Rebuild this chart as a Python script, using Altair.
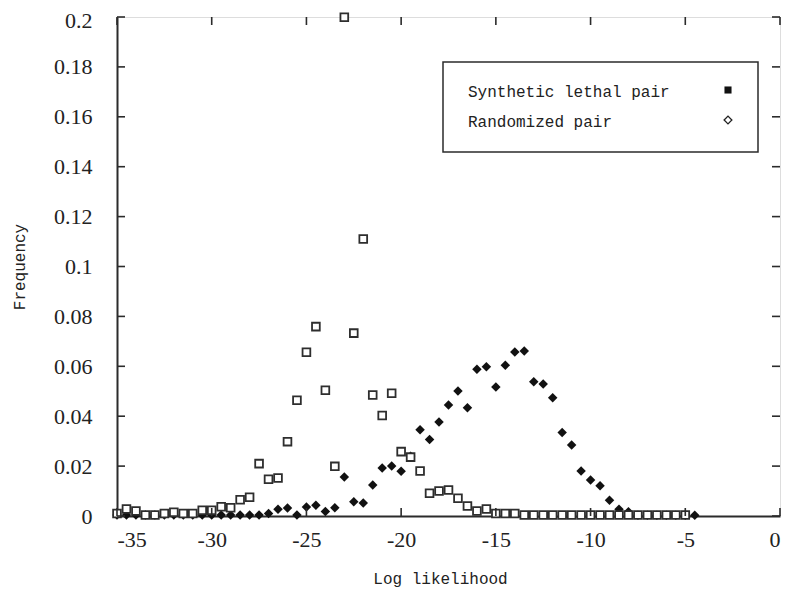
import altair as alt
import pandas as pd

# Randomized pair (open squares)
rand_x = [-35, -34.5, -34, -33.5, -33, -32.5, -32, -31.5, -31, -30.5, -30, -29.5, -29, -28.5,
          -28, -27.5, -27, -26.5, -26, -25.5, -25, -24.5, -24, -23.5, -23, -22.5, -22, -21.5,
          -21, -20.5, -20, -19.5, -19, -18.5, -18, -17.5, -17, -16.5, -16, -15.5, -15, -14.5,
          -14, -13.5, -13, -12.5, -12, -11.5, -11, -10.5, -10, -9.5, -9, -8.5, -8, -7.5, -7,
          -6.5, -6, -5.5, -5]
rand_y = [0.001, 0.0028, 0.002, 0.0004, 0.0004, 0.001, 0.0015, 0.001, 0.001, 0.0023, 0.0023,
          0.0037, 0.0033, 0.0065, 0.0075, 0.021, 0.0147, 0.0152, 0.0298, 0.0464, 0.0656, 0.0759,
          0.0504, 0.0199, 0.1999, 0.0733, 0.111, 0.0485, 0.0403, 0.0492, 0.0258, 0.0236, 0.018,
          0.0091, 0.01, 0.0104, 0.0071, 0.004, 0.002, 0.0028, 0.001, 0.001, 0.001, 0.0004,
          0.0004, 0.0004, 0.0004, 0.0004, 0.0004, 0.0004, 0.0004, 0.0004, 0.0004, 0.0004,
          0.0004, 0.0004, 0.0004, 0.0004, 0.0004, 0.0004, 0.0004]

# Synthetic lethal pair (filled diamonds)
syn_x = [-35, -34.5, -34, -33.5, -33, -32.5, -32, -31.5, -31, -30.5, -30, -29.5, -29, -28.5,
         -28, -27.5, -27, -26.5, -26, -25.5, -25, -24.5, -24, -23.5, -23, -22.5, -22, -21.5,
         -21, -20.5, -20, -19.5, -19, -18.5, -18, -17.5, -17, -16.5, -16, -15.5, -15, -14.5,
         -14, -13.5, -13, -12.5, -12, -11.5, -11, -10.5, -10, -9.5, -9, -8.5, -8, -7.5, -7,
         -6.5, -6, -5.5, -5, -4.5]
syn_y = [0.0004, 0.0004, 0.0004, 0.0004, 0.0004, 0.0004, 0.0004, 0.0004, 0.0004, 0.0004,
         0.0004, 0.0004, 0.0004, 0.0004, 0.0004, 0.0004, 0.001, 0.0027, 0.0032, 0.0004, 0.0036,
         0.0043, 0.0018, 0.0033, 0.0156, 0.0057, 0.0052, 0.0124, 0.0192, 0.02, 0.0179, 0.024,
         0.0346, 0.0307, 0.0377, 0.0445, 0.0501, 0.0434, 0.0588, 0.0598, 0.0517, 0.0604, 0.0657,
         0.0661, 0.0538, 0.0529, 0.0474, 0.0335, 0.0285, 0.018, 0.0144, 0.0121, 0.0063, 0.0027,
         0.0017, 0.0003, 0.0003, 0.0003, 0.0003, 0.0003, 0.0003, 0.0003]

x_ticks = [-35, -30, -25, -20, -15, -10, -5, 0]
y_ticks = [0, 0.02, 0.04, 0.06, 0.08, 0.1, 0.12, 0.14, 0.16, 0.18, 0.2]

legend_labels = ["Synthetic lethal pair", "Randomized pair"]

rand_df = pd.DataFrame({"x": rand_x, "y": rand_y})
syn_df = pd.DataFrame({"x": syn_x, "y": syn_y})
xt_df = pd.DataFrame({"v": x_ticks})
yt_df = pd.DataFrame({"v": y_ticks})
one = alt.Data(values=[{"a": 1}])

INK = "#2b2b2b"
SERIF = "Liberation Serif"
MONO = "Liberation Mono"

xscale = alt.Scale(domain=[-35, 0], nice=False, zero=False)
yscale = alt.Scale(domain=[0, 0.2], nice=False)

xaxis = alt.Axis(values=x_ticks, labelExpr="'' + datum.value", ticks=False, tickSize=0,
                 grid=False, labelFont=SERIF, labelFontSize=22, labelColor="#222",
                 labelPadding=13, domainColor=INK, domainWidth=2,
                 title="Log likelihood", titleFont=MONO, titleFontSize=16,
                 titleFontWeight="normal", titleColor="#222", titleX=323, titleY=67,
                 titleBaseline="alphabetic", titleAlign="center")
yaxis = alt.Axis(values=y_ticks, format=".2~f", ticks=False, tickSize=0, grid=False,
                 labelFont=SERIF, labelFontSize=22, labelColor="#222", labelPadding=25,
                 labelOffset={"condition": {"test": "datum.value > 0.19", "value": 3},
                              "value": 0},
                 domainColor=INK, domainWidth=2,
                 title="Frequency", titleFont=MONO, titleFontSize=16,
                 titleFontWeight="normal", titleColor="#222", titleX=-98, titleY=249.5,
                 titleAngle=270, titleBaseline="middle", titleAlign="center")

diamonds = alt.Chart(syn_df).mark_point(shape="diamond", filled=True, size=90,
                                        color="#111", opacity=1).encode(
    x=alt.X("x:Q", scale=xscale, axis=xaxis),
    y=alt.Y("y:Q", scale=yscale, axis=yaxis),
)
squares = alt.Chart(rand_df).mark_point(shape="square", filled=False, size=60,
                                        stroke="#2e2e2e", strokeWidth=1.8, fill="white",
                                        opacity=1, fillOpacity=1).encode(
    x="x:Q", y="y:Q",
)

tick_style = dict(color=INK, thickness=1.6, size=8, opacity=1)
bottom_ticks = alt.Chart(xt_df).mark_tick(orient="vertical", yOffset=-4, **tick_style).encode(
    x="v:Q", y=alt.datum(0))
top_ticks = alt.Chart(xt_df).mark_tick(orient="vertical", yOffset=4, **tick_style).encode(
    x="v:Q", y=alt.datum(0.2))
left_ticks = alt.Chart(yt_df).mark_tick(orient="horizontal", xOffset=4, **tick_style).encode(
    y="v:Q", x=alt.datum(-35))
right_ticks = alt.Chart(yt_df).mark_tick(orient="horizontal", xOffset=-4, **tick_style).encode(
    y="v:Q", x=alt.datum(0))

legend_box = alt.Chart(one).mark_rect(fill="white", stroke=INK, strokeWidth=1.5).encode(
    x=alt.value(326), x2=alt.value(641), y=alt.value(45), y2=alt.value(135))
legend_t1 = alt.Chart(one).mark_text(font=MONO, fontSize=16, color="#222", align="left",
                                     baseline="middle").encode(
    x=alt.value(351), y=alt.value(75), text=alt.value(legend_labels[0]))
legend_t2 = alt.Chart(one).mark_text(font=MONO, fontSize=16, color="#222", align="left",
                                     baseline="middle").encode(
    x=alt.value(351), y=alt.value(105), text=alt.value(legend_labels[1]))
legend_s1 = alt.Chart(one).mark_point(shape="square", filled=True, size=50, color="#111",
                                      opacity=1).encode(x=alt.value(611), y=alt.value(73))
legend_s2 = alt.Chart(one).mark_point(shape="diamond", filled=False, size=60, stroke="#222",
                                      strokeWidth=1.3, opacity=1).encode(
    x=alt.value(611), y=alt.value(103))

chart = alt.layer(
    diamonds, squares, bottom_ticks, top_ticks, left_ticks, right_ticks,
    legend_box, legend_t1, legend_t2, legend_s1, legend_s2,
).properties(
    width=663, height=499,
    autosize=alt.AutoSizeParams(type="none"),
    padding={"left": 109, "top": 9, "right": 5, "bottom": 71},
).configure_view(stroke=INK, strokeWidth=2).configure(background="white")

chart.save("out.html", embed_options={"renderer": "svg", "actions": False})
